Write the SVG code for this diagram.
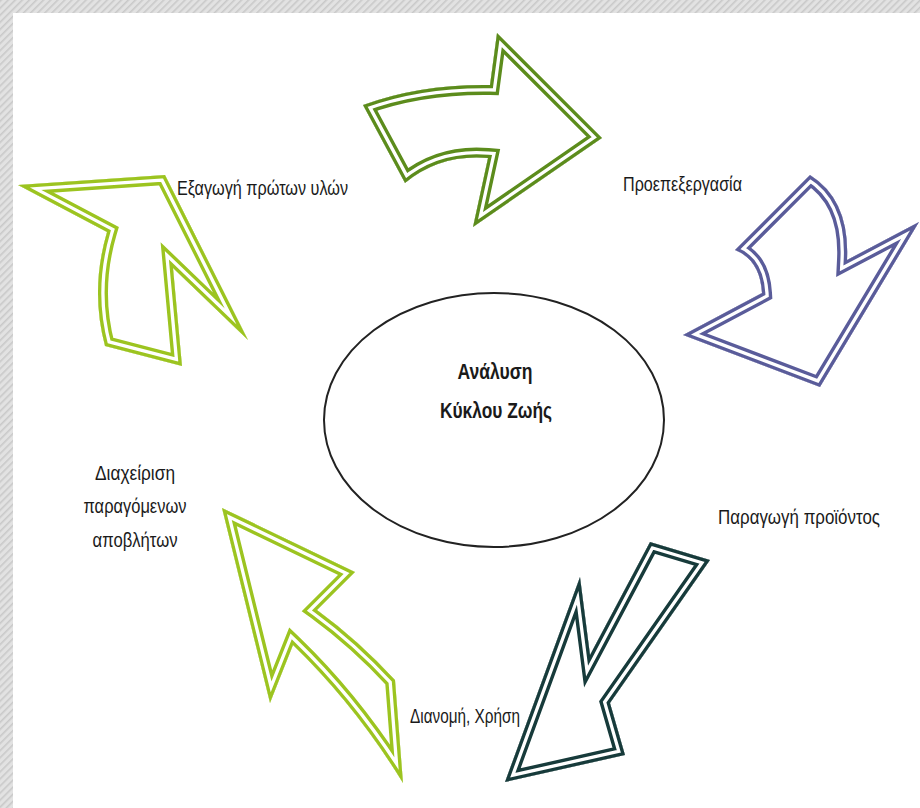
<svg xmlns="http://www.w3.org/2000/svg" xmlns:xlink="http://www.w3.org/1999/xlink" width="920" height="808" viewBox="0 0 920 808">
<style>
.o{fill:none;stroke-width:20;stroke-linejoin:miter;stroke-miterlimit:20}
.g{fill:none;stroke:#ffffff;stroke-width:13.2;stroke-linejoin:miter;stroke-miterlimit:20}
.i{fill:none;stroke-width:6.6;stroke-linejoin:miter;stroke-miterlimit:20}
.t{font-family:"Liberation Sans",Arial,sans-serif;font-size:21px;fill:#1a1a1a}
.b{font-family:"Liberation Sans",Arial,sans-serif;font-size:22px;font-weight:bold;fill:#1a1a1a}
</style>
<defs>
<pattern id="hatch" patternUnits="userSpaceOnUse" width="5" height="5" patternTransform="rotate(45)">
<rect width="5" height="5" fill="#e2e2e2"/>
<rect width="1.6" height="5" fill="#c9c9c9"/>
</pattern>
<path id="p1" d="M363,105 Q420,84 490,85 L497,33 L602,138 L473,227 L488,158 Q440,154 405,183 Z"/>
<path id="p2" d="M810,175 L735,250 Q760,260 762,293 L683,335 L820,387 L919,222 L847,260 Q850,200 810,175 Z"/>
<path id="p3" d="M650,542 L710,560 L610,703 L625,755 L505,782 L580,577 L590,655 Z"/>
<path id="p4" d="M222,508 L355,572 L317,610 Q358,640 395,680 L403,783 Q355,705 293,645 L270,703 Z"/>
<path id="p5" d="M18,185 L165,175 L248,340 L173,268 L182,366 L105,346 Q90,290 107,232 Z"/>
<clipPath id="k1"><use xlink:href="#p1" href="#p1"/></clipPath>
<clipPath id="k2"><use xlink:href="#p2" href="#p2"/></clipPath>
<clipPath id="k3"><use xlink:href="#p3" href="#p3"/></clipPath>
<clipPath id="k4"><use xlink:href="#p4" href="#p4"/></clipPath>
<clipPath id="k5"><use xlink:href="#p5" href="#p5"/></clipPath>
</defs>
<rect x="0" y="0" width="920" height="808" fill="#ffffff"/>
<rect x="0" y="0" width="920" height="13" fill="url(#hatch)"/>
<rect x="0" y="0" width="13" height="808" fill="url(#hatch)"/>

<g id="connectors">
<g id="arrow-extraction-to-preprocessing" clip-path="url(#k1)">
<use href="#p1" class="o" stroke="#5c8c1c"/>
<use href="#p1" class="g"/>
<use href="#p1" class="i" stroke="#5c8c1c"/>
</g>
<g id="arrow-preprocessing-to-production" clip-path="url(#k2)">
<use href="#p2" class="o" stroke="#5a5c9a"/>
<use href="#p2" class="g"/>
<use href="#p2" class="i" stroke="#5a5c9a"/>
</g>
<g id="arrow-production-to-use" clip-path="url(#k3)">
<use href="#p3" class="o" stroke="#173b3b"/>
<use href="#p3" class="g"/>
<use href="#p3" class="i" stroke="#173b3b"/>
</g>
<g id="arrow-use-to-waste" clip-path="url(#k4)">
<use href="#p4" class="o" stroke="#9cc420"/>
<use href="#p4" class="g"/>
<use href="#p4" class="i" stroke="#9cc420"/>
</g>
<g id="arrow-waste-to-extraction" clip-path="url(#k5)">
<use href="#p5" class="o" stroke="#9cc420"/>
<use href="#p5" class="g"/>
<use href="#p5" class="i" stroke="#9cc420"/>
</g>
</g>

<g id="center">
<ellipse cx="494" cy="420" rx="170" ry="127" fill="#ffffff" stroke="#222222" stroke-width="2"/>
<text class="b" x="495" y="379" text-anchor="middle" textLength="75" lengthAdjust="spacingAndGlyphs">Ανάλυση</text>
<text class="b" x="496" y="418" text-anchor="middle" textLength="112" lengthAdjust="spacingAndGlyphs">Κύκλου Ζωής</text>
</g>

<g id="extraction">
<text class="t" x="177" y="195" textLength="171" lengthAdjust="spacingAndGlyphs">Εξαγωγή πρώτων υλών</text>
</g>
<g id="preprocessing">
<text class="t" x="623" y="191" textLength="119" lengthAdjust="spacingAndGlyphs">Προεπεξεργασία</text>
</g>
<g id="production">
<text class="t" x="718" y="524" textLength="162" lengthAdjust="spacingAndGlyphs">Παραγωγή προϊόντος</text>
</g>
<g id="use">
<text class="t" x="410" y="723" textLength="110" lengthAdjust="spacingAndGlyphs">Διανομή, Χρήση</text>
</g>
<g id="waste">
<text class="t" x="135" y="480" text-anchor="middle" textLength="80" lengthAdjust="spacingAndGlyphs">Διαχείριση</text>
<text class="t" x="135" y="513" text-anchor="middle" textLength="103" lengthAdjust="spacingAndGlyphs">παραγόμενων</text>
<text class="t" x="135" y="547" text-anchor="middle" textLength="85" lengthAdjust="spacingAndGlyphs">αποβλήτων</text>
</g>
</svg>
